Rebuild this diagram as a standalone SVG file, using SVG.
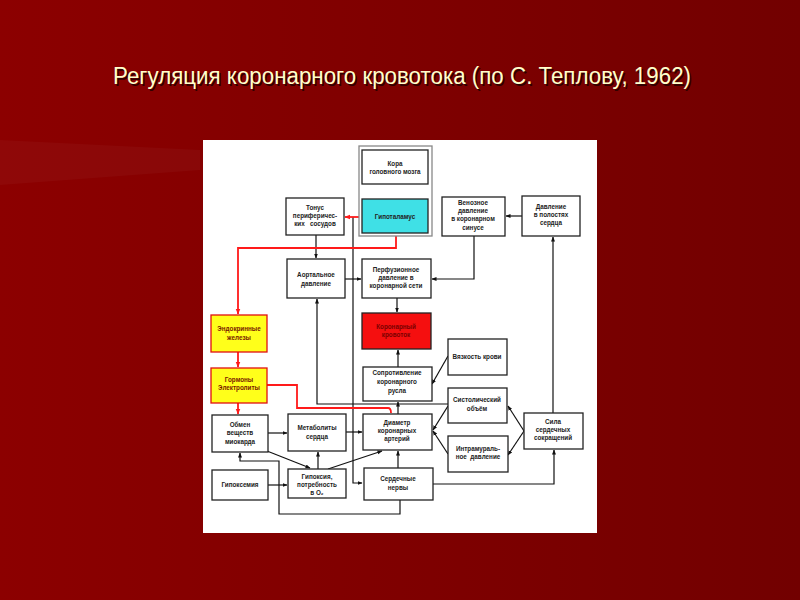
<svg xmlns="http://www.w3.org/2000/svg" width="800" height="600" viewBox="0 0 800 600">
<defs>
<linearGradient id="bg" x1="0" y1="0" x2="1" y2="0">
<stop offset="0" stop-color="#8c0000"/>
<stop offset="1" stop-color="#720000"/>
</linearGradient>
<marker id="ab" viewBox="0 0 10 10" refX="9" refY="5" markerWidth="5" markerHeight="5" orient="auto" markerUnits="userSpaceOnUse">
<path d="M0,1 L10,5 L0,9 Z" fill="#111"/>
</marker>
<marker id="ar" viewBox="0 0 10 10" refX="9" refY="5" markerWidth="6" markerHeight="6" orient="auto" markerUnits="userSpaceOnUse">
<path d="M0,1 L10,5 L0,9 Z" fill="#ff1a1a"/>
</marker>
</defs>
<style>
.box{fill:#fff;stroke:#222;stroke-width:1.3}
.t{font-family:"Liberation Sans",Arial,sans-serif;font-size:6.3px;font-weight:bold;fill:#222;text-anchor:middle}
.c{fill:none;stroke:#111;stroke-width:1.2}
.r{fill:none;stroke:#ff1a1a;stroke-width:1.8}
.title{font-family:"Liberation Sans",Arial,sans-serif;font-size:23px;fill:#ffffcc;text-anchor:middle}
</style>
<rect width="800" height="600" fill="url(#bg)"/>
<polygon points="0,140 200,150 200,170 0,185" fill="#ffffff" opacity="0.03"/>
<text class="title" x="402" y="84" fill="#300000" style="fill:#300000" dx="1.5" dy="1.5" textLength="578" lengthAdjust="spacingAndGlyphs">Регуляция коронарного кровотока (по С. Теплову, 1962)</text>
<text class="title" x="402" y="84" textLength="578" lengthAdjust="spacingAndGlyphs">Регуляция коронарного кровотока (по С. Теплову, 1962)</text>
<rect x="203" y="140" width="394" height="393" fill="#fff"/>

<g id="connectors">
<path class="c" d="M353,217 V483 H362" marker-end="url(#ab)"/>
<path class="c" d="M316,235 V258" marker-end="url(#ab)"/>
<path class="c" d="M345,279 H361" marker-end="url(#ab)"/>
<path class="c" d="M474,236 V279 H432" marker-end="url(#ab)"/>
<path class="c" d="M522,216 H506" marker-end="url(#ab)"/>
<path class="c" d="M553,413 V237" marker-end="url(#ab)"/>
<path class="c" d="M397,298 V312" marker-end="url(#ab)"/>
<path class="c" d="M398,367 V350" marker-end="url(#ab)"/>
<path class="c" d="M448,356 L432,384" marker-end="url(#ab)"/>
<path class="c" d="M398,414 V402" marker-end="url(#ab)"/>
<path class="c" d="M448,404 H317 V299" marker-end="url(#ab)"/>
<path class="c" d="M448,406 L433,430" marker-end="url(#ab)"/>
<path class="c" d="M448,454 L433,431" marker-end="url(#ab)"/>
<path class="c" d="M524,431 L508,406" marker-end="url(#ab)"/>
<path class="c" d="M524,431 L508,455" marker-end="url(#ab)"/>
<path class="c" d="M433,484 H554 V450" marker-end="url(#ab)"/>
<path class="c" d="M398,468 V451" marker-end="url(#ab)"/>
<path class="c" d="M400,500 V514 H279 V461 H240 V453" marker-end="url(#ab)"/>
<path class="c" d="M268,485 H287" marker-end="url(#ab)"/>
<path class="c" d="M268,433 H287" marker-end="url(#ab)"/>
<path class="c" d="M346,432 H362" marker-end="url(#ab)"/>
<path class="c" d="M318,469 V452" marker-end="url(#ab)"/>
<path class="c" d="M267,451 L310,468" marker-end="url(#ab)"/>
<path class="c" d="M328,469 L382,451" marker-end="url(#ab)"/>
<path class="r" d="M362,217 H345" marker-end="url(#ar)"/>
<path class="r" d="M396,236 V248 H238 V314" marker-end="url(#ar)"/>
<path class="r" d="M238,352 V367" marker-end="url(#ar)"/>
<path class="r" d="M238,403 V414" marker-end="url(#ar)"/>
<path class="r" d="M267,385 H297 V408 H388 Q391,408 391,413"/>
</g>

<g id="frame"><rect x="359" y="146" width="73" height="90" fill="#fff" stroke="#888" stroke-width="1.3"/></g>
<g id="kora"><rect class="box" x="362" y="150" width="66" height="34"/><text class="t" x="395" y="166">Кора</text><text class="t" x="395" y="174">головного мозга</text></g>
<g id="gipotalamus"><rect x="362" y="199" width="66" height="34" fill="#3fe0e6" stroke="#222" stroke-width="1.3"/><text class="t" x="395" y="219">Гипоталамус</text></g>
<g id="tonus"><rect class="box" x="286" y="198" width="58" height="37"/><text class="t" x="315" y="210">Тонус</text><text class="t" x="315" y="218">периферичес-</text><text class="t" x="315" y="226" xml:space="preserve">ких   сосудов</text></g>
<g id="venoznoe"><rect class="box" x="442" y="197" width="63" height="39"/><text class="t" x="473" y="205">Венозное</text><text class="t" x="473" y="213">давление</text><text class="t" x="473" y="221">в коронарном</text><text class="t" x="473" y="230">синусе</text></g>
<g id="davlenie-polost"><rect class="box" x="522" y="196" width="58" height="40"/><text class="t" x="551" y="209">Давление</text><text class="t" x="551" y="217">в полостях</text><text class="t" x="551" y="225">сердца</text></g>
<g id="aortalnoe"><rect class="box" x="287" y="259" width="58" height="39"/><text class="t" x="316" y="277">Аортальное</text><text class="t" x="316" y="286">давление</text></g>
<g id="perfuzionnoe"><rect class="box" x="362" y="259" width="69" height="39"/><text class="t" x="396" y="272">Перфузионное</text><text class="t" x="396" y="280">давление в</text><text class="t" x="396" y="288">коронарной сети</text></g>
<g id="krovotok"><rect x="362" y="313" width="69" height="36" fill="#f50f0f" stroke="#222" stroke-width="1.3"/><text class="t" x="396" y="329" style="fill:#7a0000">Коронарный</text><text class="t" x="396" y="337" style="fill:#7a0000">кровоток</text></g>
<g id="endokrinnye"><rect x="211" y="315" width="56" height="37" fill="#ffff1a" stroke="#e01010" stroke-width="1.3"/><text class="t" x="239" y="331" style="fill:#7a1a00">Эндокринные</text><text class="t" x="239" y="340" style="fill:#7a1a00">железы</text></g>
<g id="gormony"><rect x="211" y="368" width="56" height="35" fill="#ffff1a" stroke="#e01010" stroke-width="1.3"/><text class="t" x="239" y="382" style="fill:#7a1a00">Гормоны</text><text class="t" x="239" y="390" style="fill:#7a1a00">Электролиты</text></g>
<g id="vyazkost"><rect class="box" x="448" y="339" width="59" height="36"/><text class="t" x="477" y="359">Вязкость крови</text></g>
<g id="soprotivlenie"><rect class="box" x="363" y="367" width="69" height="34"/><text class="t" x="397" y="375">Сопротивление</text><text class="t" x="397" y="384">коронарного</text><text class="t" x="397" y="393">русла</text></g>
<g id="sistolicheskiy"><rect class="box" x="448" y="388" width="59" height="35"/><text class="t" x="477" y="402">Систолический</text><text class="t" x="477" y="411">объём</text></g>
<g id="intramuralnoe"><rect class="box" x="448" y="436" width="60" height="36"/><text class="t" x="478" y="451">Интрамураль-</text><text class="t" x="478" y="459" xml:space="preserve">ное  давление</text></g>
<g id="sila"><rect class="box" x="524" y="413" width="59" height="36"/><text class="t" x="553" y="424">Сила</text><text class="t" x="553" y="432">сердечных</text><text class="t" x="553" y="440">сокращений</text></g>
<g id="diametr"><rect class="box" x="363" y="414" width="69" height="36"/><text class="t" x="397" y="425">Диаметр</text><text class="t" x="397" y="433">коронарных</text><text class="t" x="397" y="441">артерий</text></g>
<g id="obmen"><rect class="box" x="212" y="415" width="56" height="37"/><text class="t" x="240" y="427">Обмен</text><text class="t" x="240" y="435">веществ</text><text class="t" x="240" y="444">миокарда</text></g>
<g id="metabolity"><rect class="box" x="288" y="414" width="58" height="37"/><text class="t" x="317" y="430">Метаболиты</text><text class="t" x="317" y="439">сердца</text></g>
<g id="gipoksemiya"><rect class="box" x="212" y="470" width="56" height="30"/><text class="t" x="240" y="487">Гипоксемия</text></g>
<g id="gipoksiya"><rect class="box" x="288" y="469" width="58" height="29"/><text class="t" x="317" y="479">Гипоксия,</text><text class="t" x="317" y="487">потребность</text><text class="t" x="317" y="495">в O₂</text></g>
<g id="nervy"><rect class="box" x="364" y="468" width="69" height="32"/><text class="t" x="398" y="481">Сердечные</text><text class="t" x="398" y="490">нервы</text></g>
</svg>
